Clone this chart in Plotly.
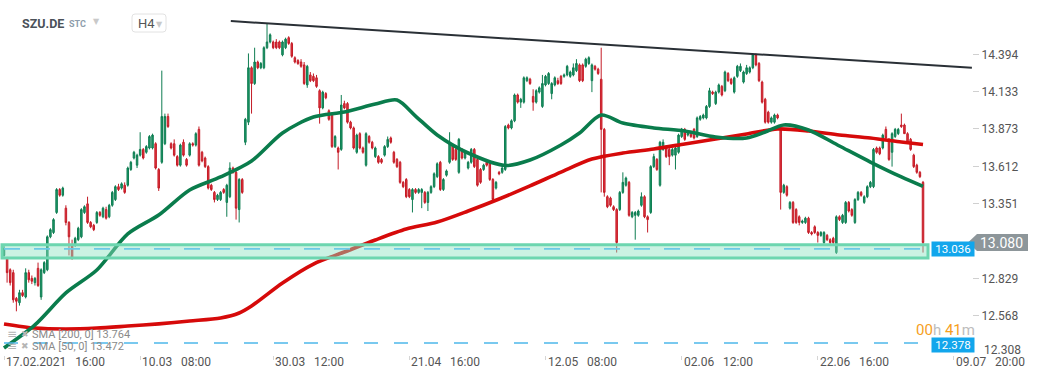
import plotly.graph_objects as go

# ---------------- data ----------------
open_ = [
12.99,12.97,12.89,12.87,12.69,12.66,12.73,12.70,12.87,12.83,
12.80,12.90,12.70,12.87,12.89,13.12,13.15,13.29,13.45,13.41,
13.32,13.22,13.06,13.06,13.10,13.12,13.29,13.35,13.22,13.20,
13.22,13.29,13.26,13.31,13.26,13.34,13.38,13.47,13.46,13.48,
13.48,13.59,13.67,13.62,13.69,13.73,13.71,13.74,13.74,13.77,
13.59,13.64,13.77,13.96,13.77,13.77,13.68,13.62,13.78,13.66,
13.69,13.77,13.76,13.87,13.71,13.67,13.61,13.48,13.43,13.38,
13.38,13.45,13.36,13.40,13.60,13.57,13.31,13.52,13.78,13.92,
14.30,14.19,14.34,14.30,14.30,14.44,14.48,14.48,14.48,14.48,
14.39,14.44,14.51,14.47,14.37,14.35,14.34,14.32,14.18,14.25,
14.24,14.23,14.14,14.02,14.12,14.00,13.98,13.75,13.74,13.73,
14.05,14.05,13.92,13.88,13.71,13.84,13.74,13.62,13.82,13.78,
13.68,13.68,13.66,13.69,13.75,13.81,13.71,13.66,13.64,13.50,
13.52,13.45,13.38,13.45,13.43,13.43,13.43,13.36,13.43,13.47,
13.54,13.64,13.45,13.55,13.64,13.76,13.73,13.57,13.73,13.67,
13.60,13.64,13.73,13.66,13.59,13.59,13.64,13.64,13.52,13.46,
13.57,13.57,13.59,13.90,13.88,13.93,14.11,14.06,14.06,14.21,
14.22,14.10,14.06,14.13,14.03,14.18,14.19,14.12,14.18,14.21,
14.24,14.24,14.25,14.24,14.25,14.28,14.32,14.32,14.31,14.33,
14.21,14.31,14.29,14.22,13.87,13.40,13.39,13.33,13.31,13.31,
13.43,13.48,13.50,13.26,13.27,13.27,13.34,13.40,13.26,13.29,
13.61,13.66,13.48,13.73,13.75,13.73,13.69,13.69,13.71,13.82,
13.87,13.83,13.85,13.87,13.82,13.94,13.95,13.95,14.03,14.13,
14.05,14.13,14.17,14.14,14.26,14.22,14.13,14.24,14.28,14.20,
14.26,14.27,14.30,14.39,14.33,14.20,14.08,13.99,13.92,13.92,
13.97,13.87,13.43,13.47,13.32,13.36,13.31,13.26,13.22,13.22,
13.25,13.15,13.19,13.15,13.13,13.08,13.13,13.10,13.11,13.01,
13.26,13.22,13.22,13.36,13.31,13.22,13.38,13.43,13.36,13.40,
13.47,13.47,13.74,13.74,13.74,13.87,13.80,13.71,13.82,13.84,
13.90,13.90,13.84,13.80,13.69,13.62,13.57,13.50]

high = [
13.06,12.98,12.90,12.89,12.70,12.75,12.75,12.90,12.89,12.85,
12.84,12.94,12.90,12.95,13.13,13.18,13.25,13.46,13.46,13.47,
13.34,13.23,13.10,13.12,13.19,13.32,13.34,13.40,13.23,13.21,
13.30,13.30,13.33,13.33,13.35,13.44,13.48,13.49,13.50,13.50,
13.61,13.65,13.72,13.70,13.85,13.74,13.76,13.83,13.84,13.78,
13.60,14.28,13.98,13.98,13.78,13.80,13.69,13.77,13.80,13.67,
13.78,13.78,13.85,13.89,13.72,13.68,13.62,13.49,13.44,13.42,
13.44,13.46,13.49,13.64,13.61,13.58,13.53,13.53,13.95,14.40,
14.31,14.44,14.35,14.34,14.45,14.61,14.54,14.49,14.50,14.49,
14.49,14.51,14.52,14.48,14.38,14.36,14.36,14.34,14.32,14.27,
14.26,14.25,14.15,14.14,14.13,14.01,13.99,13.83,13.75,14.11,
14.07,14.06,13.93,13.89,13.84,13.85,13.75,13.85,13.83,13.79,
13.75,13.69,13.67,13.76,13.82,13.82,13.72,13.67,13.65,13.51,
13.53,13.46,13.46,13.46,13.46,13.46,13.44,13.44,13.48,13.57,
13.64,13.65,13.53,13.59,13.85,13.77,13.74,13.81,13.74,13.72,
13.65,13.74,13.74,13.67,13.60,13.63,13.65,13.65,13.53,13.51,
13.58,13.61,13.90,13.91,13.94,14.12,14.12,14.09,14.24,14.24,
14.23,14.15,14.15,14.17,14.25,14.25,14.27,14.20,14.24,14.23,
14.25,14.26,14.32,14.28,14.33,14.36,14.33,14.33,14.37,14.38,
14.33,14.32,14.30,14.44,13.88,13.41,13.40,13.34,13.32,13.44,
13.57,13.54,13.51,13.30,13.30,13.31,13.43,13.41,13.27,13.62,
13.70,13.67,13.79,13.80,13.76,13.74,13.74,13.75,13.84,13.88,
13.88,13.86,13.86,13.88,13.96,13.97,13.98,14.04,14.16,14.14,
14.14,14.19,14.18,14.28,14.27,14.23,14.24,14.32,14.33,14.28,
14.32,14.31,14.40,14.40,14.34,14.21,14.09,14.00,13.96,13.98,
13.98,13.88,13.49,13.48,13.37,13.37,13.32,13.27,13.24,13.26,
13.26,13.16,13.20,13.16,13.16,13.16,13.14,13.11,13.12,13.27,
13.27,13.28,13.37,13.37,13.32,13.39,13.44,13.44,13.41,13.48,
13.51,13.74,13.75,13.75,13.84,13.89,13.81,13.85,13.88,13.88,
13.98,13.91,13.85,13.81,13.70,13.63,13.58,13.51]

low = [
12.98,12.80,12.78,12.66,12.60,12.64,12.70,12.69,12.80,12.79,
12.78,12.77,12.68,12.86,12.88,13.11,13.14,13.28,13.40,13.40,
13.20,12.99,12.96,13.05,13.09,13.11,13.28,13.21,13.18,13.16,
13.21,13.26,13.25,13.24,13.25,13.33,13.37,13.44,13.45,13.42,
13.47,13.58,13.66,13.60,13.68,13.66,13.70,13.73,13.73,13.59,
13.44,13.63,13.76,13.88,13.73,13.68,13.61,13.61,13.68,13.61,
13.68,13.75,13.75,13.61,13.64,13.60,13.45,13.44,13.36,13.37,
13.37,13.42,13.26,13.39,13.56,13.24,13.22,13.42,13.76,13.90,
13.98,14.18,14.29,14.29,14.29,14.43,14.47,14.43,14.43,14.43,
14.38,14.43,14.46,14.37,14.33,14.32,14.30,14.18,14.16,14.20,
14.20,14.16,13.91,14.01,14.08,13.93,13.74,13.74,13.59,13.72,
14.01,13.91,13.87,13.73,13.70,13.73,13.70,13.61,13.77,13.73,
13.67,13.63,13.63,13.68,13.74,13.77,13.63,13.60,13.49,13.46,
13.39,13.39,13.29,13.42,13.42,13.32,13.35,13.30,13.42,13.46,
13.53,13.44,13.44,13.54,13.63,13.65,13.65,13.56,13.66,13.66,
13.59,13.63,13.60,13.47,13.49,13.58,13.61,13.51,13.36,13.45,
13.55,13.56,13.58,13.87,13.87,13.92,14.05,14.02,14.05,14.20,
14.18,14.00,14.05,14.12,14.02,14.17,14.18,14.08,14.17,14.18,
14.18,14.23,14.24,14.23,14.24,14.27,14.20,14.20,14.30,14.32,
14.13,14.28,14.25,13.43,13.40,13.32,13.33,13.30,13.01,13.30,
13.42,13.47,13.26,13.25,13.10,13.26,13.33,13.25,13.15,13.28,
13.60,13.58,13.47,13.72,13.67,13.62,13.68,13.59,13.70,13.81,
13.79,13.82,13.81,13.80,13.81,13.93,13.94,13.94,14.02,14.11,
14.04,14.12,14.10,14.13,14.20,14.18,14.12,14.23,14.27,14.19,
14.25,14.26,14.29,14.31,14.20,14.05,13.91,13.91,13.91,13.91,
13.94,13.31,13.42,13.40,13.31,13.21,13.21,13.20,13.21,13.21,
13.14,13.13,13.14,13.08,13.12,13.07,13.09,13.07,13.07,13.00,
13.23,13.21,13.21,13.29,13.26,13.21,13.37,13.40,13.35,13.39,
13.46,13.46,13.70,13.69,13.73,13.80,13.65,13.61,13.81,13.83,
13.88,13.84,13.77,13.72,13.60,13.56,13.53,13.01]

close = [
13.04,12.87,12.80,12.68,12.67,12.73,12.71,12.87,12.82,12.81,
12.83,12.78,12.89,12.94,13.12,13.17,13.24,13.45,13.41,13.46,
13.22,13.12,12.97,13.11,13.18,13.31,13.33,13.22,13.19,13.17,
13.29,13.27,13.32,13.25,13.34,13.43,13.47,13.45,13.49,13.43,
13.60,13.64,13.71,13.69,13.73,13.67,13.75,13.82,13.83,13.60,
13.46,13.96,13.96,13.89,13.74,13.69,13.62,13.76,13.69,13.62,
13.77,13.76,13.84,13.62,13.65,13.61,13.46,13.45,13.38,13.41,
13.43,13.43,13.48,13.60,13.57,13.32,13.52,13.43,13.94,14.30,
14.19,14.34,14.30,14.33,14.44,14.48,14.53,14.44,14.44,14.44,
14.48,14.50,14.47,14.38,14.34,14.33,14.31,14.19,14.31,14.21,
14.21,14.17,14.02,14.13,14.09,13.94,13.75,13.82,13.71,14.04,
14.02,13.92,13.88,13.74,13.83,13.74,13.71,13.84,13.78,13.74,
13.74,13.64,13.64,13.75,13.80,13.78,13.64,13.61,13.50,13.47,
13.40,13.40,13.45,13.43,13.45,13.45,13.36,13.43,13.47,13.56,
13.63,13.45,13.52,13.58,13.78,13.66,13.66,13.80,13.67,13.71,
13.64,13.73,13.61,13.48,13.50,13.62,13.62,13.52,13.38,13.50,
13.56,13.60,13.89,13.88,13.93,14.11,14.06,14.08,14.23,14.23,
14.19,14.06,14.14,14.16,14.19,14.24,14.26,14.19,14.23,14.19,
14.19,14.25,14.31,14.27,14.30,14.33,14.21,14.21,14.36,14.37,
14.32,14.29,14.26,13.87,13.43,13.33,13.34,13.31,13.08,13.43,
13.50,13.53,13.27,13.29,13.29,13.30,13.40,13.26,13.24,13.61,
13.68,13.59,13.78,13.78,13.68,13.68,13.73,13.74,13.83,13.87,
13.80,13.85,13.82,13.81,13.95,13.96,13.97,14.03,14.14,14.12,
14.13,14.18,14.11,14.27,14.21,14.19,14.23,14.31,14.31,14.27,
14.30,14.30,14.39,14.32,14.21,14.06,13.92,13.92,13.95,13.97,
13.95,13.43,13.48,13.41,13.36,13.22,13.22,13.22,13.23,13.25,
13.15,13.14,13.15,13.13,13.15,13.15,13.10,13.08,13.08,13.26,
13.24,13.27,13.36,13.30,13.27,13.38,13.43,13.41,13.40,13.47,
13.50,13.73,13.71,13.70,13.83,13.81,13.66,13.84,13.87,13.87,
13.89,13.84,13.78,13.73,13.61,13.57,13.54,13.08]

bar_index = list(range(len(close)))

sma50_index = [0, 10, 20, 30, 40, 50, 60, 70, 80, 90, 100, 110, 120, 127, 133, 140, 150, 162,
               170, 180, 186, 193, 200, 210, 220, 230, 240, 246, 252, 260, 270, 280, 290, 297]
sma50 = [12.344, 12.505, 12.728, 12.888, 13.140, 13.272, 13.447, 13.538, 13.649, 13.845,
         13.956, 13.991, 14.047, 14.075, 13.963, 13.831, 13.705, 13.618, 13.656, 13.761,
         13.845, 13.970, 13.914, 13.880, 13.859, 13.817, 13.810, 13.852, 13.901, 13.866,
         13.754, 13.642, 13.538, 13.472]

sma200_index = [0, 10, 20, 30, 40, 50, 60, 70, 76, 80, 90, 100, 110, 120, 130, 140, 150, 160,
                170, 180, 190, 200, 210, 220, 230, 240, 250, 260, 270, 280, 290, 297]
sma200 = [12.512, 12.483, 12.477, 12.483, 12.497, 12.512, 12.532, 12.553, 12.588, 12.637,
          12.798, 12.930, 13.014, 13.098, 13.174, 13.223, 13.300, 13.384, 13.475, 13.572,
          13.663, 13.705, 13.733, 13.768, 13.803, 13.838, 13.873, 13.859, 13.831, 13.810,
          13.782, 13.764]

trend_index = [73.3, 312.8]
trend_price = [14.626, 14.300]

zone_low = 12.972
zone_high = 13.065
zone_level = 13.036
lower_level = 12.378

price_ticks = [14.394, 14.133, 13.873, 13.612, 13.351, 12.829, 12.568]
bottom_tick = 12.308

tick_index = [0, 44, 87, 131, 175, 219, 263, 307]
tick_dates = ["17.02.2021", "10.03", "30.03", "21.04", "12.05", "02.06", "22.06", "09.07"]
tick_times = ["16:00", "08:00", "12:00", "16:00", "08:00", "12:00", "16:00", "20:00"]

# ---------------- figure ----------------
FONT = "Roboto"
W, H = 1041, 380
ML, MR, MT, MB = 0, 69, 0, 25
PW = W - ML - MR
PH = H - MT - MB

fig = go.Figure()

fig.add_trace(go.Candlestick(
    x=bar_index, open=open_, high=high, low=low, close=close,
    increasing=dict(line=dict(color="#0f7d52", width=1), fillcolor="#1c9a68"),
    decreasing=dict(line=dict(color="#c41c27", width=1), fillcolor="#e3363f"),
    whiskerwidth=0, hoverinfo="skip", showlegend=False))

fig.add_trace(go.Scatter(
    x=sma200_index, y=sma200, mode="lines",
    line=dict(color="#d60a0a", width=3.6, shape="spline", smoothing=0.8),
    hoverinfo="skip", showlegend=False))

fig.add_trace(go.Scatter(
    x=sma50_index, y=sma50, mode="lines",
    line=dict(color="#0a7c4c", width=3.6, shape="spline", smoothing=0.8),
    hoverinfo="skip", showlegend=False))

fig.add_trace(go.Scatter(
    x=trend_index, y=trend_price, mode="lines",
    line=dict(color="#2a3036", width=2),
    hoverinfo="skip", showlegend=False))

x_lo = -4 / 3.0943
x_hi = x_lo + PW / 3.0943

def px_x(p):
    return x_lo + (x_hi - x_lo) * p / PW

shapes = []
# support zone rectangle
shapes.append(dict(type="rect", xref="x", yref="y", x0=px_x(2), x1=px_x(928),
                   y0=zone_low, y1=zone_high, layer="above",
                   fillcolor="rgba(140,226,194,0.45)",
                   line=dict(color="#6dd6b0", width=3)))
shapes.append(dict(type="line", xref="x", yref="y", x0=px_x(4), x1=px_x(924),
                   y0=zone_level, y1=zone_level, layer="above",
                   line=dict(color="#6cc9e6", width=1.6, dash="16px,14px")))
shapes.append(dict(type="line", xref="x", yref="y", x0=px_x(4), x1=px_x(920),
                   y0=lower_level, y1=lower_level, layer="above",
                   line=dict(color="#4db8ea", width=1.5, dash="14px,16px")))
# current price arrow
last = close[-1]
dy = (8.5 / PH) * (14.773 - 12.295)
shapes.append(dict(type="path", xref="paper", yref="y",
                   path=f"M {968/PW},{last} L {977/PW},{last+dy} L {1028/PW},{last+dy} "
                        f"L {1028/PW},{last-dy} L {977/PW},{last-dy} Z",
                   fillcolor="#8d969a", line=dict(width=0), layer="above"))
# H4 selector box (rounded)
rx, ry = 3 / PW, 3 / PH
bx0, bx1, by0, by1 = 132 / PW, 166 / PW, 1 - 32 / PH, 1 - 14 / PH
shapes.append(dict(type="path", xref="paper", yref="paper",
                   path=(f"M {bx0+rx},{by0} L {bx1-rx},{by0} Q {bx1},{by0} {bx1},{by0+ry} "
                         f"L {bx1},{by1-ry} Q {bx1},{by1} {bx1-rx},{by1} L {bx0+rx},{by1} "
                         f"Q {bx0},{by1} {bx0},{by1-ry} L {bx0},{by0+ry} Q {bx0},{by0} {bx0+rx},{by0} Z"),
                   line=dict(color="#e2e2e2", width=1), fillcolor="white"))

ann = []
def pap_y(py):
    return 1 - (py - MT) / PH

for i, d, t in zip(tick_index, tick_dates, tick_times):
    ann.append(dict(x=i, xref="x", y=pap_y(362), yref="paper", xanchor="left", yanchor="middle",
                    text=d + "\u00a0\u00a0\u00a0" + t, showarrow=False,
                    font=dict(family=FONT, size=12, color="#555555")))

ann.append(dict(x=982/PW, xref="paper", y=pap_y(350), yref="paper", xanchor="left",
                yanchor="middle", text=f"{bottom_tick:.3f}", showarrow=False,
                font=dict(family=FONT, size=12, color="#555555")))

ann.append(dict(x=1002/PW, xref="paper", y=last, yref="y", xanchor="center", yanchor="middle",
                text=f"{last:.3f}", showarrow=False,
                font=dict(family=FONT, size=14, color="white")))
for lvl, ys in ((zone_level, 0), (lower_level, -2)):
    ann.append(dict(x=931/PW, xref="paper", y=lvl, yref="y", xanchor="left", yanchor="middle",
                    yshift=ys, text=f"{lvl:.3f}", showarrow=False, bgcolor="#12a6ec",
                    width=42, height=14, borderpad=0,
                    font=dict(family=FONT, size=11.5, color="white")))

ann.append(dict(x=914/PW, xref="paper", y=pap_y(330), yref="paper", xanchor="left",
                yanchor="middle", showarrow=False,
                text='<span style="color:#f6a01e">00</span><span style="color:#bdbdbd">h</span> '
                     '<span style="color:#f6a01e">41</span><span style="color:#bdbdbd">m</span>',
                font=dict(family=FONT, size=15)))

# header
ann.append(dict(x=20/PW, xref="paper", y=pap_y(23), yref="paper", xanchor="left", yanchor="middle",
                text="<b>SZU.DE</b>", showarrow=False, font=dict(family=FONT, size=12.5, color="#4b5259")))
ann.append(dict(x=67/PW, xref="paper", y=pap_y(24), yref="paper", xanchor="left", yanchor="middle",
                text="<b>STC</b>", showarrow=False, font=dict(family=FONT, size=9, color="#8e9dab")))
ann.append(dict(x=91/PW, xref="paper", y=pap_y(21), yref="paper", xanchor="left", yanchor="middle",
                text="▼", showarrow=False, font=dict(family="DejaVu Sans", size=8, color="#c9c9c9")))
ann.append(dict(x=136/PW, xref="paper", y=pap_y(23), yref="paper", xanchor="left", yanchor="middle",
                text="H4", showarrow=False, font=dict(family=FONT, size=13, color="#555555")))
ann.append(dict(x=154/PW, xref="paper", y=pap_y(24), yref="paper", xanchor="left", yanchor="middle",
                text="▼", showarrow=False, font=dict(family="DejaVu Sans", size=8, color="#c9c9c9")))

# indicator legend
for py, name, val in ((334, "SMA [200, 0]", sma200[-1]), (346, "SMA [50, 0]", sma50[-1])):
    ann.append(dict(x=5/PW, xref="paper", y=pap_y(py), yref="paper", xanchor="left", yanchor="middle",
                    text="≡", showarrow=False, font=dict(family="DejaVu Sans", size=12, color="#b5b5b5")))
    ann.append(dict(x=19/PW, xref="paper", y=pap_y(py), yref="paper", xanchor="left", yanchor="middle",
                    text="✖", showarrow=False, font=dict(family="DejaVu Sans", size=9, color="#b5b5b5")))
    ann.append(dict(x=30/PW, xref="paper", y=pap_y(py), yref="paper", xanchor="left", yanchor="middle",
                    text=f"{name} {val:.3f}", showarrow=False,
                    font=dict(family=FONT, size=11, color="#8a8a8a")))

fig.update_layout(
    width=W, height=H, margin=dict(l=ML, r=MR, t=MT, b=MB),
    paper_bgcolor="white", plot_bgcolor="white", showlegend=False,
    font=dict(family=FONT),
    shapes=shapes, annotations=ann,
    xaxis=dict(range=[x_lo, x_hi], rangeslider=dict(visible=False), showgrid=False,
               zeroline=False, showline=False, tickvals=tick_index, showticklabels=False,
               ticks="outside", ticklen=4, tickcolor="#d5d5d5", fixedrange=True),
    yaxis=dict(range=[12.295, 14.773], side="right", showgrid=False, zeroline=False,
               showline=False, tickvals=price_ticks, tickformat=".3f", ticks="outside",
               ticklen=6, tickcolor="#d0d0d0",
               tickfont=dict(family=FONT, size=12, color="#555555"), fixedrange=True),
)

fig.write_html("out.html", config={"displayModeBar": False},
               post_script="document.body.style.margin='0';")
